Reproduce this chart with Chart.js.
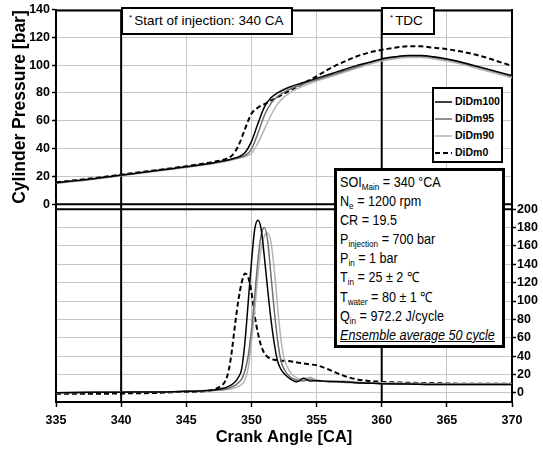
<!DOCTYPE html>
<html>
<head>
<meta charset="utf-8">
<script src="https://cdn.jsdelivr.net/npm/chart.js@4.4.0/dist/chart.umd.min.js"></script>
<style>
  body { margin: 0; background: #fff; }
  #wrap { position: relative; width: 543px; height: 451px; font-family: "Liberation Sans", Arial, sans-serif; color: #000; }
  #chart { position: absolute; left: 0; top: 0; }
  .box { position: absolute; background: #fff; border: 2px solid #000; box-sizing: border-box; }
  #soiBox { left: 121px; top: 7px; width: 172px; height: 28px; font-size: 13.5px; line-height: 24px; padding-left: 6px; }
  #tdcBox { left: 381px; top: 7px; width: 54px; height: 28px; font-size: 13.5px; line-height: 24px; padding-left: 7px; }
  .star { font-size: 8px; vertical-align: 5px; line-height: 0; margin-right: 2px; }
  #legendBox { left: 432px; top: 87px; width: 71px; height: 76px; padding: 4px 0 0 1px; font-size: 10.5px; font-weight: bold; overflow: hidden; }
  .legRow { height: 17px; line-height: 17px; white-space: nowrap; }
  .legRow svg { vertical-align: middle; margin-right: 3px; }
  #infoBox { left: 334px; top: 168px; width: 171px; height: 180px; border-width: 3px; padding: 2px 0 0 3px; }
  #infoText { font-size: 14px; line-height: 19.1px; transform: scaleX(0.9); transform-origin: left top; white-space: nowrap; }
  #infoText sub { font-size: 9px; vertical-align: -3px; line-height: 0; }
  #infoText .ens { font-style: italic; text-decoration: underline; }
  #yTitle { position: absolute; left: -93px; top: 97px; width: 224px; height: 20px; line-height: 20px; text-align: center; font-size: 17.5px; font-weight: bold; transform: rotate(-90deg); }
</style>
</head>
<body>
<div id="wrap">
  <canvas id="chart" width="543" height="451"></canvas>
  <div id="yTitle">Cylinder Pressure [bar]</div>
  <div class="box" id="soiBox"><span class="star">*</span>Start of injection: 340 CA</div>
  <div class="box" id="tdcBox"><span class="star">*</span>TDC</div>
  <div class="box" id="legendBox"></div>
  <div class="box" id="infoBox">
    <div id="infoText">
      <div>SOI<sub>Main</sub> = 340 °CA</div>
      <div>N<sub>e</sub> = 1200 rpm</div>
      <div>CR = 19.5</div>
      <div>P<sub>injection</sub> = 700 bar</div>
      <div>P<sub>in</sub> = 1 bar</div>
      <div>T<sub>in</sub> = 25 ± 2 ℃</div>
      <div>T<sub>water</sub> = 80 ± 1 ℃</div>
      <div>Q<sub>in</sub> = 972.2 J/cycle</div>
      <div class="ens">Ensemble average 50 cycle</div>
    </div>
  </div>
</div>
<script>
// axis ticks
const crankTicks = [335, 340, 345, 350, 355, 360, 365, 370];
const pressureTicks = [0, 20, 40, 60, 80, 100, 120, 140];
const hrrTicks = [0, 20, 40, 60, 80, 100, 120, 140, 160, 180, 200];
const markerCA = [340, 360]; // start of injection, TDC
const seriesNames = ['DiDm100', 'DiDm95', 'DiDm90', 'DiDm0'];

// cylinder pressure [bar]
const pressureCA = [335, 336, 337, 338, 339, 340, 341, 342, 343, 344, 345, 346, 347, 348,
  348.5, 349, 349.5, 350, 350.5, 351, 351.5, 352, 352.5, 353,
  354, 355, 356, 357, 358, 359, 360, 361, 362, 363, 364, 365, 366, 367, 368, 369, 370];
const pressureDiDm100 = [15.5, 16.5, 17.5, 18.6, 19.8, 21, 22.2, 23.4, 24.6, 25.8, 27, 28.3, 29.7, 31.5,
  32.6, 34, 37, 45, 58, 70, 76.5, 80, 82.5, 84.5,
  87.5, 90.5, 93.5, 96.5, 99.5, 102, 104.5, 106, 107, 107, 106, 104.5, 102.5, 100, 97.5, 95, 92.5];
const pressureDiDm95 = [15.3, 16.3, 17.3, 18.4, 19.6, 20.8, 22, 23.2, 24.4, 25.6, 26.8, 28.1, 29.5, 31.2,
  32.3, 33.5, 35, 39.5, 51, 64, 72.5, 77.5, 80.5, 83,
  86.5, 89.5, 92.5, 95.5, 98.5, 101.5, 104, 105.5, 106.5, 106.5, 105.5, 104, 102, 99.5, 97, 94.5, 92];
const pressureDiDm90 = [15, 16, 17, 18.1, 19.3, 20.5, 21.7, 22.9, 24.1, 25.3, 26.5, 27.8, 29.2, 30.8,
  31.8, 33, 34.3, 36.5, 44, 54, 64, 72, 77, 80.5,
  85, 88.5, 91.5, 94.5, 97.5, 100.5, 103, 104.5, 105.5, 105.5, 104.5, 103, 101, 98.5, 96, 93.5, 91];
const pressureDiDm0 = [15.8, 16.8, 17.8, 18.9, 20.1, 21.3, 22.5, 23.7, 24.9, 26.1, 27.4, 28.8, 30.3, 32.5,
  35, 42, 54, 65, 69.5, 72, 74.5, 77, 79.5, 82,
  87, 92, 97.5, 102, 106, 109, 111, 112.5, 113.5, 113.5, 112.5, 111.5, 110, 108, 105.5, 102.5, 99.5];

// heat release rate (right axis)
const hrrCA = [335, 338, 341, 343, 344.5, 346, 347, 347.5,
  348, 348.25, 348.5, 348.75, 349, 349.25, 349.5, 349.75, 350, 350.25, 350.5, 350.75,
  351, 351.25, 351.5, 351.75, 352, 352.25, 352.5,
  353, 353.5, 354, 354.5, 355, 356, 357, 358, 359, 360, 362, 364, 366, 368, 370];
const hrrDiDm100 = [0, 0.5, 1, 1, 1.5, 2, 3, 4,
  5.5, 7, 9, 12, 17, 26, 55, 98, 142, 178, 188, 178,
  147, 112, 80, 54, 35, 26, 21,
  15, 12, 16, 13, 13.5, 12, 12, 11, 10.5, 10, 9.5, 9, 9, 9, 9];
const hrrDiDm95 = [0, 0.5, 1, 1, 1.5, 2, 2.5, 3,
  4, 5, 6.5, 8, 11, 15, 24, 40, 68, 105, 145, 172,
  180, 165, 128, 90, 58, 36, 26,
  17, 14, 13, 15, 12.5, 13, 11.5, 11, 10.5, 10, 9.5, 9, 9, 9, 9];
const hrrDiDm90 = [0, 0.5, 1, 1, 1.5, 2, 2.5, 3,
  3.5, 4, 4.5, 5.5, 7, 9, 14, 27, 55, 90, 128, 157,
  171, 174, 164, 135, 95, 60, 38,
  22, 16, 15, 17, 14, 13, 13, 12, 11, 11, 10.5, 10, 10, 10, 10];
const hrrDiDm0 = [-1, -1, -0.5, 0, 1, 1.5, 3, 6,
  13, 24, 46, 75, 101, 120, 130, 126, 110, 84, 65, 51,
  43, 39, 37, 36, 35.5, 35, 35,
  34.5, 33, 32, 31, 30, 25, 19, 15, 13, 12, 11, 10.5, 10, 10, 10];

// axis ranges: pressure fills the upper panel, heat release the lower one
const P_MIN = -142.1, P_MAX = 140;
const H_MIN = -10, H_MAX = 417.6;

const FONT = '"Liberation Sans", Arial, sans-serif';
const lineStyles = [
  { color: '#000000', width: 1.5, dash: [] },
  { color: '#6e6e6e', width: 1.5, dash: [] },
  { color: '#b4b4b4', width: 1.5, dash: [] },
  { color: '#000000', width: 2, dash: [5, 3] }
];

function pairs(xs, ys) {
  return xs.map((x, i) => ({ x: x, y: ys[i] }));
}

const pressureSeries = [pressureDiDm100, pressureDiDm95, pressureDiDm90, pressureDiDm0];
const hrrSeries = [hrrDiDm100, hrrDiDm95, hrrDiDm90, hrrDiDm0];

const datasets = [];
seriesNames.forEach((name, i) => {
  const s = lineStyles[i];
  datasets.push({
    label: name, data: pairs(pressureCA, pressureSeries[i]), yAxisID: 'yP',
    borderColor: s.color, borderWidth: s.width, borderDash: s.dash,
    pointRadius: 0, cubicInterpolationMode: 'monotone', fill: false
  });
  datasets.push({
    label: name + ' HRR', data: pairs(hrrCA, hrrSeries[i]), yAxisID: 'yH',
    borderColor: s.color, borderWidth: s.width, borderDash: s.dash,
    pointRadius: 0, cubicInterpolationMode: 'monotone', fill: false
  });
});
markerCA.forEach(ca => {
  datasets.push({
    label: 'marker ' + ca, data: [{ x: ca, y: P_MIN }, { x: ca, y: P_MAX }], yAxisID: 'yP',
    borderColor: '#000', borderWidth: 2, pointRadius: 0
  });
});

// top frame line and the double line between the two panels
const panelLines = {
  id: 'panelLines',
  afterDatasetsDraw(chart) {
    const { ctx, chartArea: a, scales } = chart;
    const ys = [a.top + 1, scales.yP.getPixelForValue(0), scales.yH.getPixelForValue(200)];
    ctx.save();
    ctx.strokeStyle = '#000';
    ctx.lineWidth = 2;
    ys.forEach(y => {
      ctx.beginPath();
      ctx.moveTo(a.left - 1, y);
      ctx.lineTo(a.right + 1, y);
      ctx.stroke();
    });
    ctx.restore();
  }
};

function fixedTicks(values) {
  return scale => { scale.ticks = values.map(v => ({ value: v })); };
}

const tickFont = { family: FONT, size: 12.5, weight: 'bold' };
const gridColor = '#c6c6c6';

new Chart(document.getElementById('chart').getContext('2d'), {
  type: 'line',
  data: { datasets: datasets },
  options: {
    responsive: false,
    animation: false,
    devicePixelRatio: 1,
    layout: { padding: { top: 7, left: 0, right: 0, bottom: 0 } },
    plugins: { legend: { display: false }, tooltip: { enabled: false } },
    scales: {
      x: {
        type: 'linear', min: 335, max: 370,
        afterBuildTicks: fixedTicks(crankTicks),
        afterFit: s => { s.height = 49; },
        ticks: { color: '#000', font: tickFont, padding: 6, maxRotation: 0 },
        grid: { color: gridColor, tickColor: '#000', tickLength: 5, tickWidth: 1.5 },
        border: { color: '#000', width: 2 },
        title: { display: true, text: 'Crank Angle [CA]', color: '#000',
          font: { family: FONT, size: 16.5, weight: 'bold' }, padding: { top: 0, bottom: 4 } }
      },
      yP: {
        type: 'linear', position: 'left', min: P_MIN, max: P_MAX,
        afterBuildTicks: fixedTicks(pressureTicks),
        afterFit: s => { s.width = 56; },
        ticks: { color: '#000', font: tickFont, padding: 2 },
        grid: { color: gridColor, tickColor: '#000', tickLength: 4, tickWidth: 1.5 },
        border: { color: '#000', width: 2 }
      },
      yH: {
        type: 'linear', position: 'right', min: H_MIN, max: H_MAX,
        afterBuildTicks: fixedTicks(hrrTicks),
        afterFit: s => { s.width = 31; },
        ticks: { color: '#000', font: tickFont, padding: 1 },
        grid: { color: gridColor, tickColor: '#000', tickLength: 4, tickWidth: 1.5 },
        border: { color: '#000', width: 2 }
      }
    }
  },
  plugins: [panelLines]
});

// legend box
const legendBox = document.getElementById('legendBox');
seriesNames.forEach((name, i) => {
  const s = lineStyles[i];
  const row = document.createElement('div');
  row.className = 'legRow';
  row.innerHTML = '<svg width="17" height="4"><line x1="0" y1="2" x2="17" y2="2" stroke="' + s.color +
    '" stroke-width="' + s.width + '"' + (s.dash.length ? ' stroke-dasharray="' + s.dash.join(',') + '"' : '') +
    '/></svg>' + name;
  legendBox.appendChild(row);
});
</script>
</body>
</html>
